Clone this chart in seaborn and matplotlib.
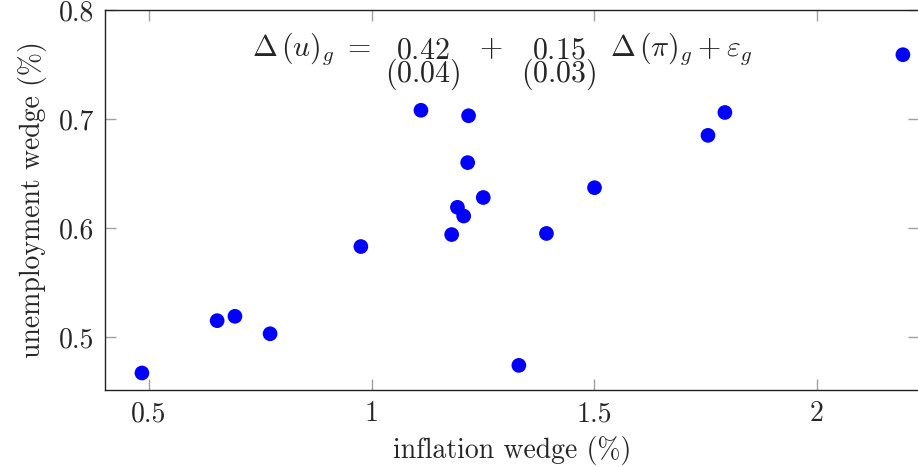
import numpy as np
import pandas as pd
import seaborn as sns
import matplotlib.pyplot as plt
from matplotlib.ticker import FuncFormatter

# inflation wedge vs unemployment wedge (%)
inflation = [0.484, 0.653, 0.693, 0.772, 0.976, 1.111, 1.218, 1.216, 1.251, 1.193,
             1.207, 1.180, 1.393, 1.331, 1.501, 1.756, 1.794, 2.194]
unemployment = [0.467, 0.515, 0.519, 0.503, 0.583, 0.708, 0.703, 0.660, 0.628, 0.619,
                0.611, 0.594, 0.595, 0.474, 0.637, 0.685, 0.706, 0.759]
xticks = [0.5, 1, 1.5, 2]
yticks = [0.5, 0.6, 0.7, 0.8]

df = pd.DataFrame({'inflation': inflation, 'unemployment': unemployment})

sns.set_style('ticks')
plt.rcParams['font.family'] = ['cmr10', 'DejaVu Serif']
plt.rcParams['mathtext.fontset'] = 'cm'
plt.rcParams['axes.unicode_minus'] = False
plt.rcParams['axes.formatter.use_mathtext'] = True

fig = plt.figure(figsize=(9.18, 4.67), dpi=100)
ax = fig.add_axes([105 / 918, 1 - 390 / 467, 813 / 918 + 0.001, 380 / 467])

sns.scatterplot(data=df, x='inflation', y='unemployment', color='#0000ff',
                s=112, edgecolor='none', linewidth=0, ax=ax, zorder=3)

ax.set_xlim(0.401, 2.23)
ax.set_ylim(0.4514, 0.8)
ax.set_xticks(xticks)
ax.set_yticks(yticks)
ax.xaxis.set_major_formatter(FuncFormatter(lambda v, p: '%g' % v))
ax.yaxis.set_major_formatter(FuncFormatter(lambda v, p: '%g' % v))
ax.tick_params(direction='in', length=8, width=1, color='#a0a0a0',
               top=True, right=True, labelsize=20, pad=8)
for sp in ax.spines.values():
    sp.set_visible(True)
    sp.set_color('#222222')
    sp.set_linewidth(1.0)

ax.set_xlabel('inflation wedge (%)', fontsize=20, labelpad=6)
ax.set_ylabel('unemployment wedge (%)', fontsize=20, labelpad=8)

# regression equation, standard errors stacked under the coefficients
fs = 21.5
r1, r2 = 0.879, 0.812
kw = dict(transform=ax.transAxes, fontsize=fs, va='baseline')
ax.text(0.181, r1, r'$\Delta\,(u)_g\;=$', ha='left', **kw)
ax.text(0.3900, r2, '$0.42$\n$(0.04)$', ha='center', multialignment='center',
        linespacing=0.69, **kw)
ax.text(0.4736, r1, r'$+$', ha='center', **kw)
ax.text(0.557, r2, '$0.15$\n$(0.03)$', ha='center', multialignment='center',
        linespacing=0.69, **kw)
ax.text(0.620, r1, r'$\Delta\,(\pi)_g + \varepsilon_g$', ha='left', **kw)

fig.savefig('out.png', dpi=100)
